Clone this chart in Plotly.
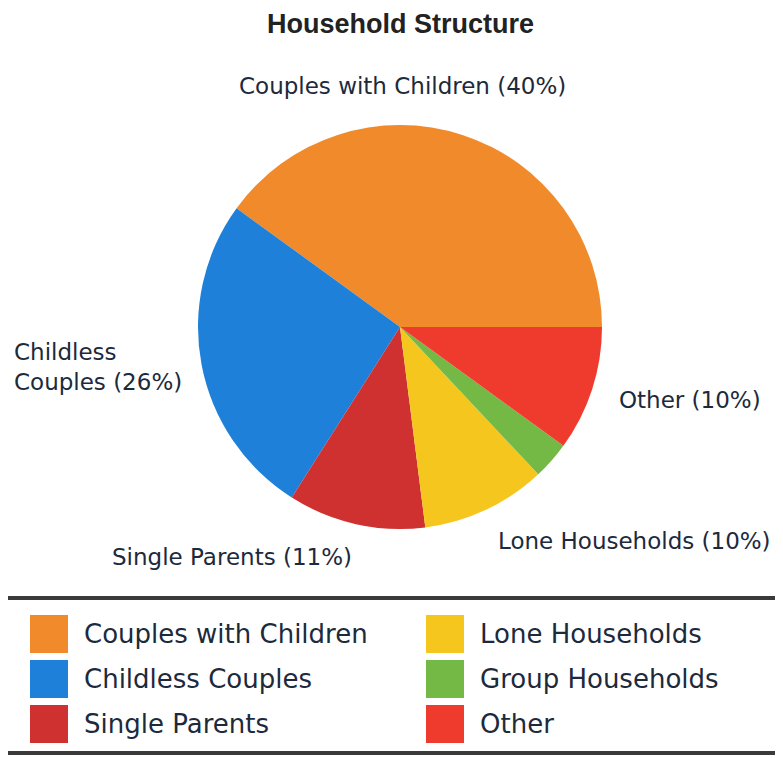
import plotly.graph_objects as go

W, H = 783, 758
OFF = 8  # default page body margin
FW, FH = W - OFF, H - OFF

categories = ["Couples with Children", "Childless Couples", "Single Parents",
              "Lone Households", "Group Households", "Other"]
values = [40, 26, 11, 10, 3, 10]
colors = ["#F18A2A", "#1E80D8", "#CF3030", "#F5C71E", "#74B845", "#EE3B2E"]
label_texts = ["Couples with Children (40%)", "Childless<br>Couples (26%)",
               "Single Parents (11%)", "Lone Households (10%)", None, "Other (10%)"]
legend_order = [0, 1, 2, 3, 4, 5]


def px(x):
    return (x - OFF) / FW


def py(y):
    return 1 - (y - OFF) / FH


cx, cy, r = 400, 327, 202
# first slice spans from 3 o'clock counterclockwise
rotation = 90 - 360 * values[0] / sum(values)

fig = go.Figure()
fig.add_trace(go.Pie(
    labels=categories, values=values, sort=False,
    direction="counterclockwise", rotation=rotation,
    marker=dict(colors=colors, line=dict(width=0)),
    textinfo="none", showlegend=False, hoverinfo="label+percent",
    domain=dict(x=[px(cx - r), px(cx + r)], y=[py(cy + r), py(cy - r)]),
))

label_font = dict(family="DejaVu Sans", size=23, color="#1c2a3c")
label_pos = {
    0: (402, 86, "center"),
    1: (12, 367, "left"),
    2: (110, 557, "left"),
    3: (496, 541, "left"),
    5: (617, 400, "left"),
}
annotations = []
for i, (x, y, al) in label_pos.items():
    annotations.append(dict(
        x=px(x), y=py(y), xref="paper", yref="paper", text=label_texts[i],
        showarrow=False, xanchor=al, yanchor="middle", align="left",
        font=label_font))

annotations.append(dict(
    x=px(400), y=1, xref="paper", yref="paper",
    text="<b>Household Structure</b>", showarrow=False,
    xanchor="center", yanchor="top", borderpad=0,
    font=dict(family="Liberation Sans", size=27, color="#222222")))

shapes = [dict(type="rect", xref="paper", yref="paper",
               x0=px(3), x1=px(800), y0=py(598), y1=py(753),
               line=dict(color="#3a3a3a", width=4), fillcolor="rgba(0,0,0,0)")]

row_y = [634, 679, 724]
col_sw = [30, 426]
col_tx = [82, 478]
for k, idx in enumerate(legend_order):
    col, row = divmod(k, 3)
    yc = row_y[row]
    shapes.append(dict(type="rect", xref="paper", yref="paper",
                       x0=px(col_sw[col]), x1=px(col_sw[col] + 38),
                       y0=py(yc + 19), y1=py(yc - 19),
                       line=dict(width=0), fillcolor=colors[idx]))
    annotations.append(dict(
        x=px(col_tx[col]), y=py(yc), xref="paper", yref="paper",
        text=categories[idx], showarrow=False, xanchor="left", yanchor="middle",
        font=dict(family="DejaVu Sans", size=26, color="#1c2a3c")))

fig.update_layout(
    width=FW, height=FH, margin=dict(l=0, r=0, t=0, b=0),
    paper_bgcolor="white", plot_bgcolor="white",
    annotations=annotations, shapes=shapes,
)

fig.write_html("out.html")
